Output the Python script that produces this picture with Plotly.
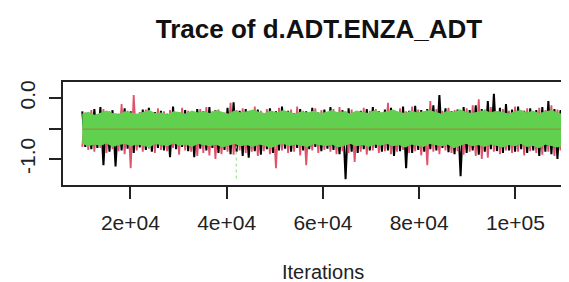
import plotly.graph_objects as go

# ---- data ----
# iteration span of the trace
iter_start = 10000
iter_end = 110000

# chain 1 (black): alternating high / low excursions, 80 pairs
black_hi = [-0.22,-0.25,-0.18,-0.15,-0.24,-0.20,-0.26,-0.17,-0.22,-0.28,
            -0.19,-0.16,-0.23,-0.21,-0.26,-0.14,-0.24,-0.20,-0.25,-0.18,
            -0.22,-0.15,-0.20,-0.24,-0.16,-0.07,-0.21,-0.18,-0.23,-0.19,
            -0.26,-0.17,-0.22,-0.14,-0.21,-0.25,-0.18,-0.22,-0.16,-0.24,
            -0.19,-0.15,-0.23,-0.20,-0.17,-0.25,-0.21,-0.18,-0.15,-0.22,
            -0.19,-0.16,-0.24,-0.14,-0.21,-0.13,-0.20,-0.18,-0.12,0.05,
            -0.17,-0.22,-0.19,-0.15,-0.20,-0.12,-0.18,-0.05,0.07,-0.16,
            -0.10,-0.19,-0.14,-0.21,-0.17,-0.20,-0.15,-0.05,-0.18,-0.20]
black_lo = [-0.80,-0.84,-0.82,-1.10,-0.88,-1.12,-0.86,-0.83,-0.90,-0.81,
            -0.85,-0.88,-0.82,-0.86,-0.97,-0.84,-0.80,-0.87,-0.97,-0.83,
            -0.86,-0.82,-0.90,-0.85,-0.92,-0.88,-0.95,-0.98,-0.87,-0.93,
            -0.84,-0.90,-0.86,-0.83,-0.88,-0.82,-0.86,-0.84,-0.80,-0.87,
            -0.83,-0.85,-0.92,-1.33,-0.88,-0.90,-0.84,-0.86,-0.82,-0.88,
            -0.86,-0.95,-0.87,-1.15,-0.90,-0.85,-0.88,-0.84,-0.86,-0.82,
            -0.89,-0.92,-1.28,-0.90,-0.86,-0.93,-0.88,-0.84,-0.87,-0.90,
            -0.86,-0.88,-0.84,-0.90,-0.86,-0.95,-0.88,-0.92,-1.00,-0.85]

# chain 2 (red)
red_hi = [-0.24,-0.20,-0.27,-0.18,-0.22,-0.25,-0.10,-0.21,0.05,-0.23,
          -0.19,-0.26,-0.17,-0.22,-0.20,-0.24,-0.16,-0.21,-0.25,-0.18,
          -0.15,-0.22,-0.19,-0.24,-0.08,-0.20,-0.17,-0.23,-0.14,-0.21,
          -0.18,-0.25,-0.16,-0.22,-0.19,-0.14,-0.21,-0.24,-0.17,-0.20,
          -0.23,-0.18,-0.15,-0.22,-0.19,-0.25,-0.16,-0.21,-0.18,-0.24,
          -0.08,-0.20,-0.17,-0.22,-0.14,-0.19,-0.23,-0.05,-0.18,-0.21,
          -0.16,-0.20,-0.24,-0.17,-0.12,-0.02,-0.19,-0.15,-0.22,-0.18,
          -0.21,-0.14,-0.20,-0.17,-0.23,-0.16,-0.20,-0.12,-0.19,-0.22]
red_lo = [-0.80,-0.85,-0.88,-0.82,-0.90,-0.84,-0.87,-0.92,-1.15,-0.86,
          -0.88,-0.83,-0.90,-0.85,-0.87,-0.82,-0.93,-0.86,-0.88,-0.95,
          -0.90,-0.94,-1.00,-0.92,-0.88,-0.93,-0.86,-0.90,-0.88,-0.95,
          -0.87,-0.92,-1.15,-0.86,-0.90,-0.88,-0.94,-1.10,-0.86,-0.90,
          -0.85,-0.88,-0.92,-0.87,-0.90,-1.05,-0.88,-0.93,-0.86,-0.90,
          -0.87,-0.92,-0.88,-0.85,-0.90,-0.87,-0.94,-1.10,-0.88,-0.92,
          -0.86,-0.90,-0.87,-0.93,-0.88,-0.95,-1.00,-0.98,-0.88,-0.92,
          -0.86,-0.90,-0.88,-0.94,-0.87,-0.90,-0.93,-0.88,-0.95,-0.86]

# chain 3 (green): dense band envelope
green_hi = [-0.27,-0.24,-0.29,-0.25,-0.22,-0.26,-0.28,-0.23,-0.25,-0.27,
            -0.24,-0.21,-0.26,-0.25,-0.28,-0.23,-0.24,-0.27,-0.22,-0.25,
            -0.23,-0.26,-0.21,-0.24,-0.27,-0.22,-0.25,-0.23,-0.20,-0.24,
            -0.26,-0.22,-0.25,-0.21,-0.24,-0.27,-0.23,-0.25,-0.22,-0.26,
            -0.24,-0.21,-0.25,-0.23,-0.27,-0.22,-0.24,-0.26,-0.21,-0.25,
            -0.23,-0.20,-0.24,-0.26,-0.22,-0.25,-0.23,-0.21,-0.24,-0.27,
            -0.22,-0.25,-0.20,-0.24,-0.26,-0.23,-0.21,-0.25,-0.22,-0.24,
            -0.27,-0.23,-0.21,-0.25,-0.22,-0.26,-0.24,-0.21,-0.25,-0.28]
green_lo = [-0.74,-0.78,-0.75,-0.77,-0.73,-0.79,-0.76,-0.74,-0.78,-0.75,
            -0.77,-0.80,-0.74,-0.76,-0.78,-0.73,-0.77,-0.75,-0.79,-0.74,
            -0.76,-0.78,-0.75,-0.80,-0.77,-0.74,-0.78,-0.76,-0.79,-0.75,
            -0.77,-0.81,-0.76,-0.74,-0.78,-0.75,-0.77,-0.79,-0.74,-0.76,
            -0.78,-0.75,-0.80,-0.77,-0.74,-0.78,-0.76,-0.79,-0.75,-0.77,
            -0.74,-0.78,-0.76,-0.80,-0.75,-0.77,-0.79,-0.74,-0.76,-0.78,
            -0.75,-0.81,-0.77,-0.74,-0.78,-0.76,-0.79,-0.75,-0.77,-0.80,
            -0.76,-0.78,-0.74,-0.79,-0.77,-0.81,-0.75,-0.78,-0.80,-0.76]
# a thin green outlier excursion
green_out_iter = [42000, 42000]
green_out_val = [-0.78, -1.34]

center_value = -0.51

x_tick_vals = [20000, 40000, 60000, 80000, 100000]
x_tick_text = ["2e+04", "4e+04", "6e+04", "8e+04", "1e+05"]
y_tick_vals = [-1.0, -0.5, 0.0]
y_tick_text = ["-1.0", "", "0.0"]

title_text = "Trace of d.ADT.ENZA_ADT"
x_label = "Iterations"

# ---- build ----
def interleave(hi, lo):
    out = []
    for h, l in zip(hi, lo):
        out += [h, l]
    return out

def iters(n):
    step = (iter_end - iter_start) / (n - 1)
    return [iter_start + i * step for i in range(n)]

BLACK = "#000000"
RED = "#DF536B"
GREEN = "#61D04F"

fig = go.Figure()

b = interleave(black_hi, black_lo)
fig.add_trace(go.Scatter(x=iters(len(b)), y=b, mode="lines",
                         line=dict(color=BLACK, width=2.0), hoverinfo="skip"))
r = interleave(red_lo, red_hi)
fig.add_trace(go.Scatter(x=iters(len(r)), y=r, mode="lines",
                         line=dict(color=RED, width=1.8), hoverinfo="skip"))
fig.add_trace(go.Scatter(x=green_out_iter, y=green_out_val, mode="lines",
                         line=dict(color="#8fdc80", width=1, dash="dot"),
                         hoverinfo="skip"))
gx = iters(len(green_lo))
fig.add_trace(go.Scatter(x=gx, y=green_lo, mode="lines",
                         line=dict(color=GREEN, width=1.5), hoverinfo="skip"))
fig.add_trace(go.Scatter(x=gx, y=green_hi, mode="lines", fill="tonexty",
                         fillcolor=GREEN,
                         line=dict(color=GREEN, width=1.5), hoverinfo="skip"))
fig.add_trace(go.Scatter(x=[iter_start, iter_end], y=[center_value, center_value],
                         mode="lines", line=dict(color="#b0703e", width=0.8),
                         hoverinfo="skip"))

W, H = 569, 282
L, R_, T, B = 55, 0, 74, 105
px_per_iter = 0.0048125
x0 = 6000
x1 = x0 + (W - L - R_) / px_per_iter
y_top = 0.262
y_bot = -1.426
PH = H - T - B

FONT = "Liberation Sans, Arial, Helvetica, sans-serif"

fig.update_layout(
    width=W, height=H,
    margin=dict(l=L, r=R_, t=T, b=B, pad=0, autoexpand=False),
    paper_bgcolor="white", plot_bgcolor="white",
    showlegend=False,
    font=dict(family=FONT, size=21, color="#222222"),
    title=dict(text="<b>" + title_text + "</b>", xref="container", yref="container",
               x=311 / W, y=1 - 21 / H, xanchor="center", yanchor="middle",
               font=dict(family=FONT, size=26, color="#111111")),
    xaxis=dict(range=[x0, x1], showgrid=False, zeroline=False, automargin=False,
               showline=True, linecolor="#222222", linewidth=1.5, mirror=True,
               ticks="outside", ticklen=12, tickwidth=1.5, tickcolor="#222222",
               tickvals=x_tick_vals, ticktext=x_tick_text,
               ticklabelstandoff=6,
               tickfont=dict(family=FONT, size=21, color="#222222")),
    yaxis=dict(range=[y_bot, y_top], showgrid=False, zeroline=False, automargin=False,
               showline=True, linecolor="#222222", linewidth=1.5,
               ticks="outside", ticklen=12, tickwidth=1.5, tickcolor="#222222",
               tickvals=y_tick_vals, ticktext=y_tick_text, tickangle=-90,
               ticklabelstandoff=6,
               tickfont=dict(family=FONT, size=21, color="#222222")),
    annotations=[dict(text=x_label, xref="paper", yref="paper",
                      x=(315 - L) / (W - L - R_), y=((T + PH) - 264) / PH,
                      xanchor="center", yanchor="middle", showarrow=False,
                      borderpad=0,
                      font=dict(family=FONT, size=20, color="#222222"))],
)

fig.write_html("out.html")
